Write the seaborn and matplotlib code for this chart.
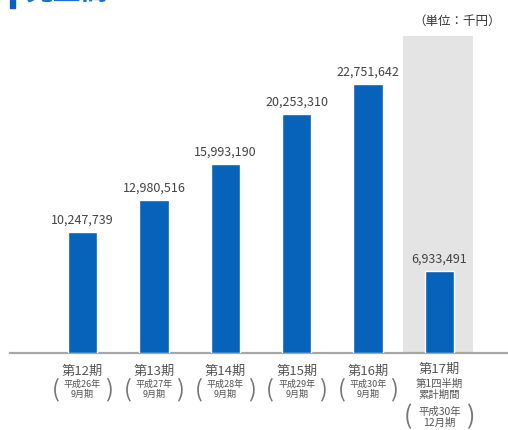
import matplotlib.pyplot as plt
import matplotlib.patches as mpatches
import seaborn as sns
import pandas as pd

# data (単位：千円)
periods = ['第12期', '第13期', '第14期', '第15期', '第16期', '第17期']
years = ['平成26年', '平成27年', '平成28年', '平成29年', '平成30年', '平成30年']
months = ['9月期', '9月期', '9月期', '9月期', '9月期', '12月期']
sales = [10247739, 12980516, 15993190, 20253310, 22751642, 6933491]

df = pd.DataFrame({'period': periods, 'sales': sales})

BLUE = '#0762b9'
GRAY_TXT = '#555555'

sns.set_style('white')
plt.rcParams['font.family'] = ['Noto Sans CJK JP', 'DejaVu Sans']

W, H = 508, 430
fig = plt.figure(figsize=(W / 100, H / 100), dpi=100)
base_px = 353  # baseline, px from top
ax = fig.add_axes([10 / W, 1 - base_px / H, 1 - 10 / W, base_px / H])

sns.barplot(data=df, x='period', y='sales', color=BLUE, saturation=1,
            width=0.41, ax=ax, zorder=3)

ymax = 29.86e6
ax.set_ylim(0, ymax)
ax.set_xlim(-1.015, 5.96)

# grey highlight behind the current quarter
ax.axvspan(4.49, 5.47, ymin=0, ymax=26.8e6 / ymax, color='#e4e4e4', zorder=0, lw=0)

for s in ['top', 'right', 'left']:
    ax.spines[s].set_visible(False)
ax.spines['bottom'].set_color('#a6a6a6')
ax.spines['bottom'].set_linewidth(1.6)
ax.set_xticks([])
ax.set_yticks([])
ax.set_xlabel('')
ax.set_ylabel('')

# value labels
for i, v in enumerate(sales):
    ax.annotate(f'{v:,}', (i, v), xytext=(0, 6), textcoords='offset points',
                ha='center', va='baseline', fontsize=9, color='#444444')

# category labels under the axis
tr = ax.get_xaxis_transform()
def below(p):
    return -p / base_px

for i in range(5):
    ax.text(i, below(18), periods[i], transform=tr, ha='center', va='center',
            fontsize=9.5, color=GRAY_TXT)
    ax.text(i, below(31), years[i], transform=tr, ha='center', va='center',
            fontsize=6.5, color=GRAY_TXT)
    ax.text(i, below(41), months[i], transform=tr, ha='center', va='center',
            fontsize=6.5, color=GRAY_TXT)
    ax.text(i - 0.37, below(37), '(', transform=tr, ha='center', va='center',
            fontsize=17, color='#777777')
    ax.text(i + 0.37, below(37), ')', transform=tr, ha='center', va='center',
            fontsize=17, color='#777777')

ax.text(5, below(16), periods[5], transform=tr, ha='center', va='center',
        fontsize=9.5, color=GRAY_TXT)
ax.text(5, below(31), '第1四半期', transform=tr, ha='center', va='center',
        fontsize=7.5, color=GRAY_TXT)
ax.text(5, below(42), '累計期間', transform=tr, ha='center', va='center',
        fontsize=7.5, color=GRAY_TXT)
ax.text(5, below(59), years[5], transform=tr, ha='center', va='center',
        fontsize=7.5, color=GRAY_TXT)
ax.text(5, below(70), months[5], transform=tr, ha='center', va='center',
        fontsize=7.5, color=GRAY_TXT)
ax.text(5 - 0.44, below(64), '(', transform=tr, ha='center', va='center',
        fontsize=18, color='#777777')
ax.text(5 + 0.44, below(64), ')', transform=tr, ha='center', va='center',
        fontsize=18, color='#777777')

# unit note
fig.text(457 / W, 1 - 21 / H, '（単位：千円）', ha='center', va='center',
         fontsize=9, color='#333333')

# title, cut off by the top edge
fig.patches.append(mpatches.Rectangle((10 / W, 1 - 8 / H), 5 / W, 8 / H,
                                      transform=fig.transFigure, color='#0a5fc0'))
fig.text(25 / W, 1 - 7 / H, '売上高', ha='left', va='bottom', fontsize=20,
         fontweight='bold', color='#1a6fd0')

fig.savefig('out.png', dpi=100)
